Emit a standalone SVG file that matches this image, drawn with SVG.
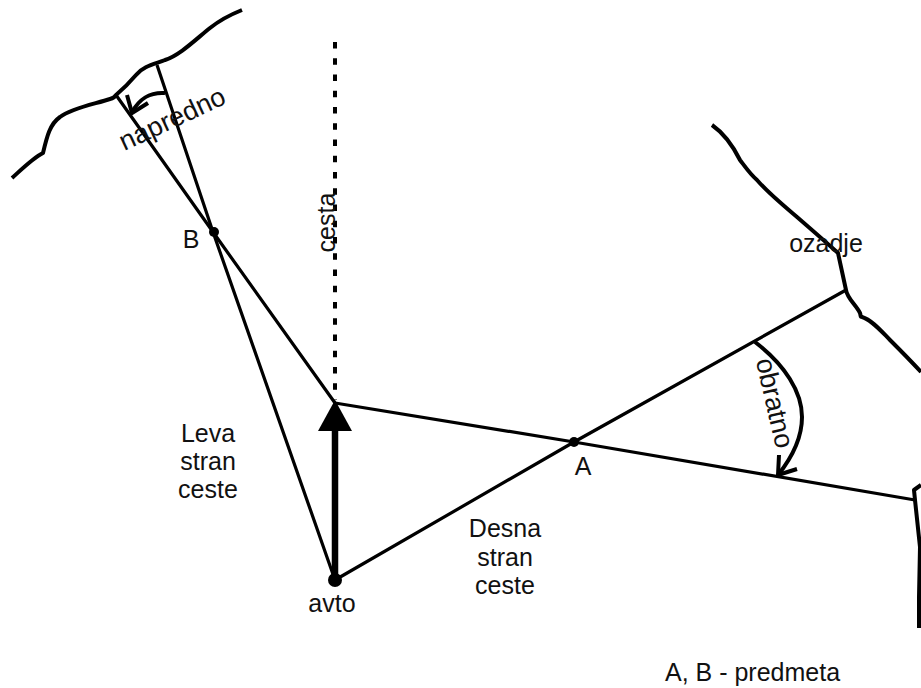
<svg xmlns="http://www.w3.org/2000/svg" width="921" height="688" viewBox="0 0 921 688">
<style>
text{font-family:"Liberation Sans",Arial,sans-serif;font-size:25px;fill:#111}
.t{text-anchor:middle}
.r{font-size:27px}
.l{fill:none;stroke:#000;stroke-width:3.2}
.b{fill:none;stroke:#000;stroke-width:4;stroke-linejoin:round}
.d{fill:#000}
</style>
<rect width="921" height="688" fill="#fff"/>
<g id="edges">
<path class="b" d="M12 178C22 169 33 158 43 153C47 136 50 124 60 117C72 108 95 104 110 99C114 98 115 97 116 95C122 90 130 82 136 75C143 66 155 64 165 60C180 55 195 40 210 28C220 20 232 14 242 10"/>
<path class="b" d="M712 125C722 132 732 144 740 160C746 168 750 174 757 180C768 193 784 206 797 217C812 230 828 244 838 253L846 290C847 298 856 305 860 313C861 316 860 317 862 317C872 320 882 332 890 340C900 350 910 360 921 372"/>
<path class="b" d="M921 485L914 490L915 500L920 547L919 597L919 628"/>
<path class="l" d="M116 95L213 232L335 403"/>
<path class="l" d="M157 65L213 232L335 580"/>
<path class="l" d="M335 580L574 442L846 290"/>
<path class="l" d="M335 403L574 442L915 500"/>
<path d="M335 42V400" fill="none" stroke="#000" stroke-width="4" stroke-dasharray="6.5 9.75"/>
<path d="M335 580V425" fill="none" stroke="#000" stroke-width="6.5"/>
<path class="d" d="M335 400L352 431H318Z"/>
<path class="b" d="M165 93C150 92 140 98 132 112"/>
<path class="b" d="M127 95L132 113L148 103"/>
<path class="b" d="M755 342C785 365 802 392 802 417C802 440 790 460 778 475"/>
<path class="b" d="M779 455L778 475L797 469"/>
</g>
<g id="avto"><circle class="d" cx="335" cy="580" r="7"/><text class="t" x="332" y="612">avto</text></g>
<g id="point-a"><circle class="d" cx="574" cy="442" r="5"/><text class="t" x="583" y="475">A</text></g>
<g id="point-b"><circle class="d" cx="214" cy="232" r="5"/><text class="t" x="191" y="248">B</text></g>
<g id="labels">
<text class="t" transform="translate(335 222.5) rotate(-90)">cesta</text>
<text class="t r" transform="translate(176 127) rotate(-25)">napredno</text>
<text class="t r" transform="translate(766 405) rotate(77)">obratno</text>
<text class="t" x="826" y="252">ozadje</text>
<text class="t"><tspan x="208" y="442">Leva</tspan><tspan x="208" y="470">stran</tspan><tspan x="208" y="498">ceste</tspan></text>
<text class="t"><tspan x="505" y="537">Desna</tspan><tspan x="505" y="566">stran</tspan><tspan x="505" y="594">ceste</tspan></text>
<text x="665" y="681">A, B - predmeta</text>
</g>
</svg>
